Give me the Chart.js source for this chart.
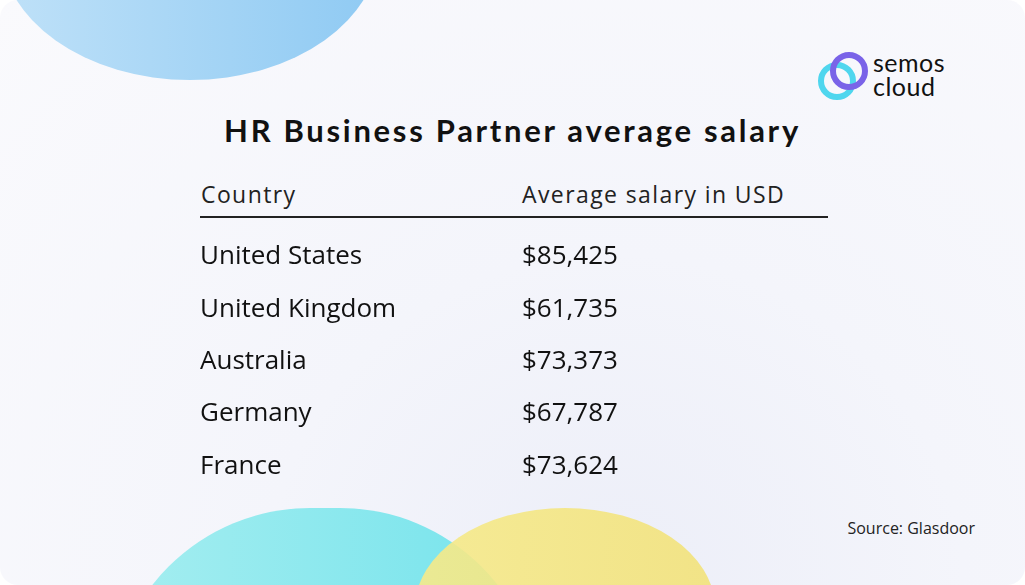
<!DOCTYPE html>
<html lang="en">
  <head>
    <meta charset="UTF-8">
    <title>HR Business Partner average salary</title>
    <script src="https://cdn.jsdelivr.net/npm/chart.js"></script>
    <style>
      body { margin: 0; width: 1025px; height: 585px; overflow: hidden; background: #fff; font-family: "Open Sans", sans-serif; }
      .card { position: absolute; left: 0; top: 0; width: 1025px; height: 585px; border-radius: 18px; overflow: hidden;
        background: radial-gradient(ellipse at 60% 100%, #eceef8 0%, #f4f5fb 40%, #fafafd 100%); }
      .blob { position: absolute; border-radius: 50%; }
      .b1 { left: 0; top: -190px; width: 380px; height: 270px; background: linear-gradient(90deg, #bfe1f8, #8fcaf3); border-radius: 0 0 50% 50%; }
      .b2 { left: 110px; top: 508px; width: 430px; height: 200px; background: linear-gradient(90deg, #a6eef0, #74e3ec); border-radius: 200px 200px 0 0; }
      .b3 { left: 415px; top: 508px; width: 300px; height: 200px; background: linear-gradient(90deg, #f6ea8a, #f2e27a); opacity: .9; border-radius: 50%; }
      h1 { position: absolute; left: 0; width: 1025px; top: 111px; margin: 0; text-align: center; font-family: Lato, sans-serif; font-weight: 700; font-size: 31px; letter-spacing: 2.7px; color: #111; }
      .hdr { position: absolute; top: 178px; font-size: 23px; letter-spacing: 1.4px; color: #222; }
      .rule { position: absolute; left: 200px; top: 216px; width: 628px; height: 2px; background: #222; }
      .src { position: absolute; right: 50px; top: 517px; font-size: 16px; color: #222; }
      .logo { position: absolute; left: 818px; top: 52px; }
      .logo .r1, .logo .r2 { position: absolute; width: 26px; height: 26px; border: 6px solid; border-radius: 50%; }
      .logo .r1 { left: 0; top: 10px; border-color: #4fd6ee; }
      .logo .r2 { left: 12px; top: 0; border-color: #7a63e8; }
      .logo span { position: absolute; left: 55px; top: -2px; font-family: Lato, sans-serif; font-size: 25px; line-height: 24px; letter-spacing: .5px; color: #111; }
      #wrap { position: absolute; left: 200px; top: 215px; width: 630px; height: 293px; }
    </style>
  </head>
  <body>
    <div class="card">
      <div class="blob b1"></div>
      <div class="blob b2"></div>
      <div class="blob b3"></div>
      <div class="logo"><div class="r1"></div><div class="r2"></div><span>semos<br>cloud</span></div>
      <h1>HR Business Partner average salary</h1>
      <div class="hdr" style="left:201px">Country</div>
      <div class="hdr" style="left:522px">Average salary in USD</div>
      <div class="rule"></div>
      <div id="wrap"><canvas id="table-chart"></canvas></div>
      <div class="src">Source: Glasdoor</div>
    </div>
    <script>
      const countries = ['United States', 'United Kingdom', 'Australia', 'Germany', 'France'];
      const salaries = [85425, 61735, 73373, 67787, 73624];

      // writes the salary of each row next to the country label
      const valueText = {
        id: 'valueText',
        afterDatasetsDraw(chart) {
          const { ctx, scales } = chart;
          ctx.save();
          ctx.font = '26px "Open Sans", sans-serif';
          ctx.fillStyle = '#111';
          ctx.textBaseline = 'middle';
          salaries.forEach((v, i) => {
            ctx.fillText('$' + v.toLocaleString('en-US'), scales.x.getPixelForValue(0), scales.y.getPixelForValue(i));
          });
          ctx.restore();
        }
      };

      new Chart(document.getElementById('table-chart'), {
        type: 'bar',
        data: { labels: countries, datasets: [{ data: salaries, backgroundColor: 'transparent' }] },
        options: {
          indexAxis: 'y',
          responsive: true,
          maintainAspectRatio: false,
          animation: false,
          layout: { padding: 0 },
          plugins: { legend: { display: false }, tooltip: { enabled: false } },
          scales: {
            x: { display: false, min: 0, max: 100000 },
            y: {
              grid: { display: false },
              border: { display: false },
              afterFit(s) { s.width = 322; },
              ticks: { crossAlign: 'far', padding: 0, color: '#111', font: { family: 'Open Sans', size: 26 } }
            }
          }
        },
        plugins: [valueText]
      });
    </script>
  </body>
</html>
